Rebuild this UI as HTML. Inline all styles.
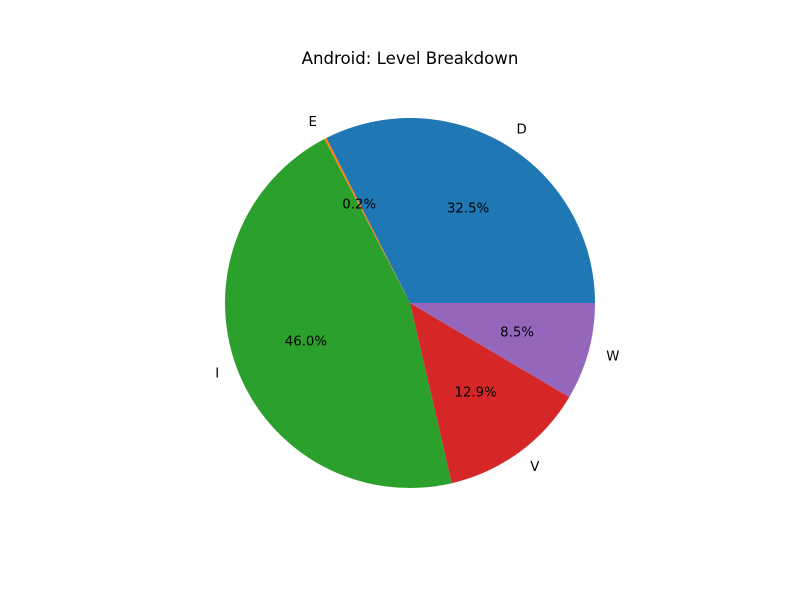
<!DOCTYPE html>
<html><head><meta charset="utf-8"><style>
body{margin:0;background:#fff;}
svg{display:block;font-family:"DejaVu Sans","Liberation Sans",sans-serif;}
</style></head><body>
<svg id="chart" width="800" height="600">
<rect width="800" height="600" fill="#fff"/>
<text x="410" y="64" font-size="16.6" text-anchor="middle">Android: Level Breakdown</text>
<g id="slices"></g>
<g id="texts"></g>
</svg>
<script>
const categories = ["D","E","I","V","W"];
const values = [32.5, 0.2, 46.0, 12.9, 8.5];
const pctLabels = ["32.5%","0.2%","46.0%","12.9%","8.5%"];
const colors = ["#1f77b4","#ff7f0e","#2ca02c","#d62728","#9467bd"];
const NS = "http://www.w3.org/2000/svg";
const gS = document.getElementById('slices'), gT = document.getElementById('texts');
const cx = 410, cy = 303, R = 185;
const total = values.reduce((a,b)=>a+b,0);
function pt(r, deg){ const a = deg*Math.PI/180; return [cx + r*Math.cos(a), cy - r*Math.sin(a)]; }
let start = 0;
values.forEach((v,i)=>{
  const sweep = v/total*360, end = start+sweep, mid = start+sweep/2;
  const [x1,y1] = pt(R,start), [x2,y2] = pt(R,end);
  const p = document.createElementNS(NS,'path');
  p.setAttribute('d',`M${cx},${cy} L${x1},${y1} A${R},${R} 0 ${sweep>180?1:0} 0 ${x2},${y2} Z`);
  p.setAttribute('fill',colors[i]);
  
  
  gS.appendChild(p);
  const [lx,ly] = pt(R*1.1, mid);
  const t = document.createElementNS(NS,'text');
  t.setAttribute('x',lx); t.setAttribute('y',ly+4);
  t.setAttribute('font-size','13.3');
  t.setAttribute('text-anchor', Math.cos(mid*Math.PI/180) > 0 ? 'start' : 'end');
  t.textContent = categories[i];
  
  
  gT.appendChild(t);
  const [px,py] = pt(R*0.6, mid);
  const q = document.createElementNS(NS,'text');
  q.setAttribute('x',px); q.setAttribute('y',py+4);
  q.setAttribute('font-size','13.3');
  q.setAttribute('text-anchor','middle');
  q.textContent = pctLabels[i];
  
  
  gT.appendChild(q);
  start = end;
});
</script>
</body></html>
